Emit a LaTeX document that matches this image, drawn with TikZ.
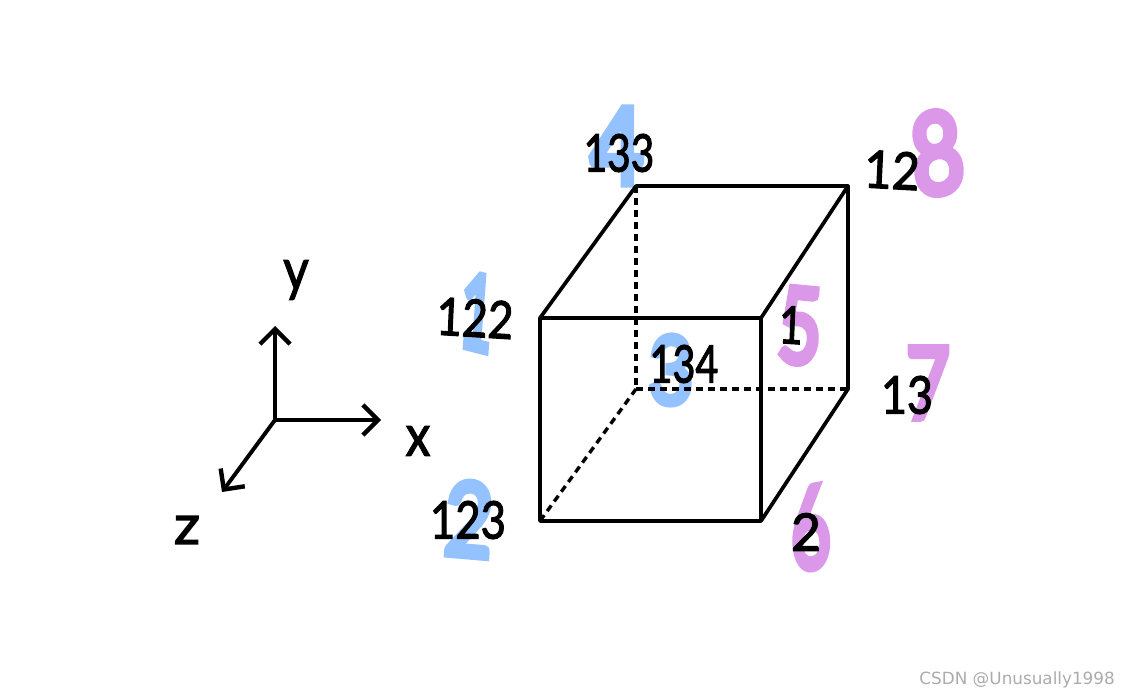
\documentclass[tikz,border=0pt]{standalone}
\usepackage{fontspec}
\usetikzlibrary{arrows.meta}
\newfontfamily\handfont[FakeBold=2.2]{Lato}
\newfontfamily\markfont[FakeBold=7]{Lato}
\newfontfamily\wmfont{DejaVu Sans}
\definecolor{markblue}{HTML}{94C2FF}
\definecolor{markpurple}{HTML}{DC98E8}
\definecolor{wmgrey}{HTML}{ABABAB}
\tikzset{
  x=1pt,y=-1pt,
  edge/.style={line width=3.7pt,black,line cap=round,line join=round},
  hidden/.style={line width=3.4pt,black,dash pattern=on 7pt off 5pt},
  axis/.style={line width=3.9pt,black,line cap=round,-{Straight Barb[length=15pt,width=30pt,line width=4.4pt]}},
  hand/.style={inner sep=0pt,transform shape,font=\handfont\fontsize{52}{52}\selectfont,text=black},
  letter/.style={hand,font=\handfont\fontsize{58}{58}\selectfont},
  blue mark/.style={inner sep=0pt,transform shape,font=\markfont\fontsize{104}{104}\selectfont,text=markblue},
  purple mark/.style={inner sep=0pt,transform shape,font=\markfont\fontsize{104}{104}\selectfont,text=markpurple},
}
\begin{document}
\begin{tikzpicture}
\useasboundingbox (0,0) rectangle (1130,700);
% corner points of the cube and the axes
\coordinate (A) at (540,318);
\coordinate (B) at (761,318);
\coordinate (C) at (761,521);
\coordinate (D) at (540,521);
\coordinate (E) at (636,186);
\coordinate (F) at (848,186);
\coordinate (G) at (848,389);
\coordinate (H) at (636,389);
\coordinate (O) at (275,420);
\coordinate (Xe) at (381,420);
\coordinate (Ye) at (275,326);
\coordinate (Ze) at (222,492);
% highlighter digits
\node[blue mark,xscale=.88,yscale=1.02] (m4) at (617,146) {4};
\node[blue mark,xscale=.55,rotate=-8] (m1) at (477,312) {1};
\node[blue mark,xscale=.8,yscale=.98,rotate=-4] (m2) at (469,519) {2};
\node[blue mark,xscale=.74,yscale=.9] (m3) at (671,370) {3};
\node[purple mark,xscale=.86,yscale=1.08,rotate=8] (m8) at (937,153) {8};
\node[purple mark,xscale=.72,yscale=1.0,rotate=-4] (m5) at (800,326) {5};
\node[purple mark,xscale=.72,yscale=.95] (m7) at (928,383) {7};
\node[purple mark,xscale=.66,yscale=1.08,rotate=6] (m6) at (810,528) {6};
% cube
\draw[hidden] (E) -- (H);
\draw[hidden] (H) -- (G);
\draw[hidden] (H) -- (D);
\draw[edge] (A) -- (B) -- (C) -- (D) -- cycle;
\draw[edge] (A) -- (E) -- (F) -- (B);
\draw[edge] (F) -- (G) -- (C);
% axes
\draw[axis] (O) -- (Xe);
\draw[axis] (O) -- (Ye);
\draw[axis] (O) -- (Ze);
% handwritten labels
\node[hand,xscale=.78] (l133) at (619,153) {133};
\node[hand,xscale=.85,rotate=-3] (l122) at (475,318) {122};
\node[hand,xscale=.84] (l123) at (468,520) {123};
\node[hand,xscale=.76] (l134) at (684,364) {134};
\node[hand,xscale=.92,rotate=-3] (l12) at (892,170) {12};
\node[hand,xscale=.86] (l13) at (907,395) {13};
\node[hand,xscale=.8,rotate=-3] (l1) at (791,325) {1};
\node[hand,xscale=1] (l2) at (806,532) {2};
\node[letter,xscale=.85] (lx) at (418,441) {x};
\node[letter,xscale=.85] (ly) at (296,280) {y};
\node[letter,xscale=1,yscale=.95] (lz) at (187,530) {z};
\node[inner sep=0pt,anchor=east,text=wmgrey,font=\wmfont\fontsize{16.8}{16.8}\selectfont] (wm) at (1115,680) {CSDN @Unusually1998};
\end{tikzpicture}
\end{document}
